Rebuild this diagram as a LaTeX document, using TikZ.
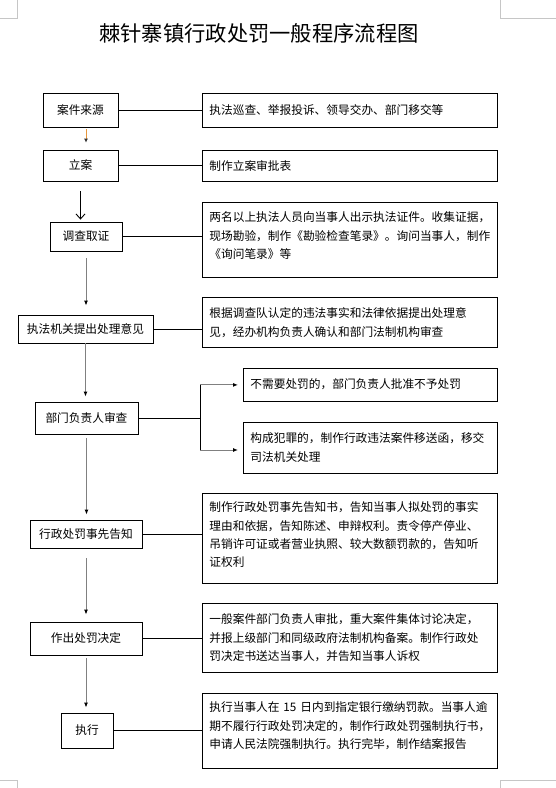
\documentclass[tikz,border=0pt]{standalone}
\usepackage{fontspec}
\setmainfont{Noto Sans CJK SC}
\usetikzlibrary{arrows.meta, calc, positioning}

\begin{document}
\begin{tikzpicture}[x=1pt, y=-1pt,
  stage/.style={draw=black, line width=0.8pt, inner sep=0pt, font=\fontsize{11.7}{18.3}\selectfont},
  desc/.style={draw=black, line width=0.8pt, anchor=north west, inner xsep=7pt, inner ysep=4pt,
    text width=281pt, align=left, font=\fontsize{11.7}{18.3}\selectfont},
  link/.style={draw=black, line width=0.8pt},
  flowarrow/.style={draw=gray, line width=1pt, -{Latex[length=5pt, width=4pt, color=black]}},
  cropmark/.style={draw=gray!45, line width=0.6pt},
]

\useasboundingbox (0,0) rectangle (556,788);

% page corner marks
\draw[cropmark] (17,0) -- (17,18) -- (0,18);
\draw[cropmark] (500,0) -- (500,18) -- (556,18);
\draw[cropmark] (0,780) -- (17,780) -- (17,788);
\draw[cropmark] (556,780) -- (500,780) -- (500,788);

% title
\node[font=\fontsize{21.3}{25}\selectfont] (title) at (259,33) {棘针寨镇行政处罚一般程序流程图};

% left column: procedure stages
\node[stage, minimum width=75pt, minimum height=34pt] (l1) at (80.5,110) {案件来源};
\node[stage, minimum width=75pt, minimum height=31pt] (l2) at (80.5,165.5) {立案};
\node[stage, minimum width=72pt, minimum height=29pt] (l3) at (86,236.5) {调查取证};
\node[stage, minimum width=135pt, minimum height=28pt] (l4) at (85.5,329) {执法机关提出处理意见};
\node[stage, minimum width=103pt, minimum height=32pt] (l5) at (86.5,418) {部门负责人审查};
\node[stage, minimum width=112pt, minimum height=28pt] (l6) at (86,534) {行政处罚事先告知};
\node[stage, minimum width=112pt, minimum height=33pt] (l7) at (86,638.5) {作出处罚决定};
\node[stage, minimum width=52pt, minimum height=35pt] (l8) at (87,730.5) {执行};

% right column: explanations
\node[desc, text height=17.5pt, text depth=8.5pt] (r1) at (202,93) {执法巡查、举报投诉、领导交办、部门移交等};
\node[desc, text height=16pt, text depth=7pt] (r2) at (202,150) {制作立案审批表};
\node[desc, text height=15.5pt, text depth=51.5pt] (r3) at (202,202) {两名以上执法人员向当事人出示执法证件。收集证据，\\现场勘验，制作《勘验检查笔录》。询问当事人，制作\\《询问笔录》等};
\node[desc, text height=16.5pt, text depth=25.5pt] (r4) at (202,297) {根据调查队认定的违法事实和法律依据提出处理意\\见，经办机构负责人确认和部门法制机构审查};
\node[desc, text width=240pt, text height=16.5pt, text depth=8.5pt] (r5a) at (243,368) {不需要处罚的，部门负责人批准不予处罚};
\node[desc, text width=240pt, text height=16.5pt, text depth=26.5pt] (r5b) at (243,422) {构成犯罪的，制作行政违法案件移送函，移交\\司法机关处理};
\node[desc, text height=14.5pt, text depth=67.5pt] (r6) at (202,493) {制作行政处罚事先告知书，告知当事人拟处罚的事实\\理由和依据，告知陈述、申辩权利。责令停产停业、\\吊销许可证或者营业执照、较大数额罚款的，告知听\\证权利};
\node[desc, text height=16.5pt, text depth=44.5pt] (r7) at (202,603) {一般案件部门负责人审批，重大案件集体讨论决定，\\并报上级部门和同级政府法制机构备案。制作行政处\\罚决定书送达当事人，并告知当事人诉权};
\node[desc, text height=14.5pt, text depth=52.5pt] (r8) at (202,693) {执行当事人在 15 日内到指定银行缴纳罚款。当事人逾\\期不履行行政处罚决定的，制作行政处罚强制执行书，\\申请人民法院强制执行。执行完毕，制作结案报告};

% stage -> explanation links
\draw[link] (l1.east) -- (l1.east -| r1.west);
\draw[link] (l2.east) -- (l2.east -| r2.west);
\draw[link] (l3.east) -- (l3.east -| r3.west);
\draw[link] (l4.east) -- (l4.east -| r4.west);
\draw[link] (l6.east) -- (l6.east -| r6.west);
\draw[link] (l7.east) -- (l7.east -| r7.west);
\draw[link] (l8.east) -- (l8.east -| r8.west);

% review branches into two outcomes
\coordinate (fork) at (200,418);
\draw[link] (l5.east) -- (fork);
\draw[link] (fork |- r5a.west) -- (fork |- 0,450);
\draw[flowarrow, shorten >=5pt] (fork |- r5a.west) -- (r5a.west);
\draw[flowarrow, shorten >=5pt] (fork |- 0,450) -- (r5b.west |- 0,450);

% main flow downwards
\draw[draw={rgb,255:red,230;green,150;blue,60}, line width=1pt, shorten <=2pt, shorten >=7pt,
  -{Latex[length=4pt, width=4pt, color=black!80]}] ([xshift=5.5pt]l1.south) -- ([xshift=5.5pt]l2.north);
\draw[draw=black, line width=0.9pt, shorten <=10pt, shorten >=2pt,
  -{Straight Barb[length=5pt, width=9pt]}] (l2.south) -- (l2.south |- l3.north);
\draw[flowarrow, shorten <=7pt, shorten >=9pt] (l3.south) -- (l3.south |- l4.north);
\draw[flowarrow, shorten >=5pt] (l4.south) -- (l4.south |- l5.north);
\draw[flowarrow, shorten <=4pt, shorten >=5pt] (l5.south) -- (l5.south |- l6.north);
\draw[flowarrow, shorten <=10pt, shorten >=7pt] (l6.south) -- (l6.south |- l7.north);
\draw[flowarrow, shorten <=3pt, shorten >=5pt] (l7.south) -- (l7.south |- l8.north);

\end{tikzpicture}
\end{document}
